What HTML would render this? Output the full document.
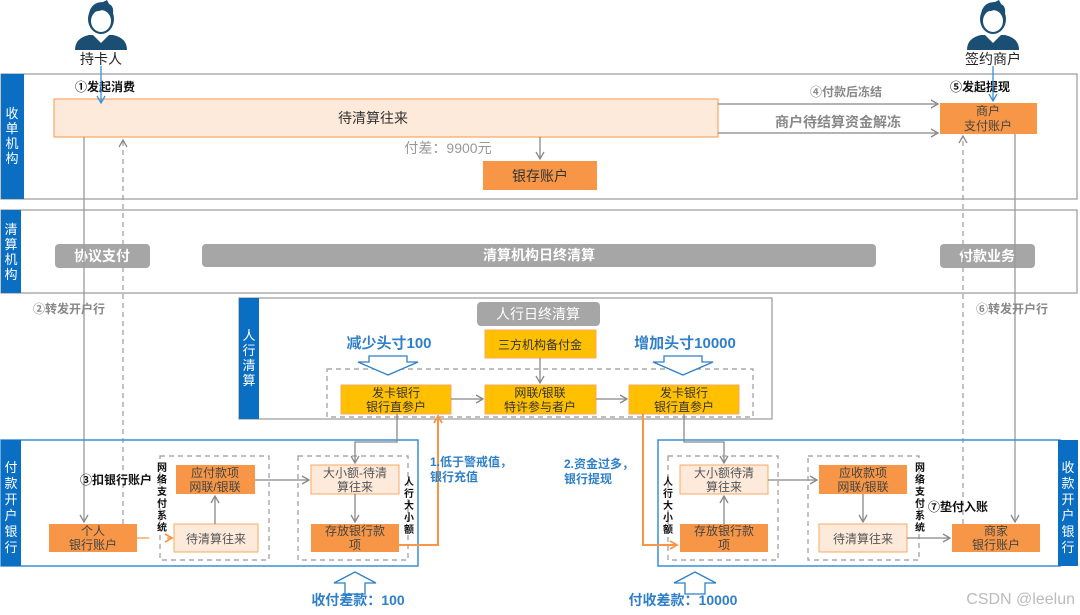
<!DOCTYPE html>
<html><head><meta charset="utf-8"><style>
html,body{margin:0;padding:0;background:#fff;}
svg{display:block;font-family:"Liberation Sans","Noto Sans CJK SC",sans-serif;}
</style></head><body>
<svg width="1080" height="615" viewBox="0 0 1080 615" xmlns="http://www.w3.org/2000/svg">
<defs>
<marker id="ag" markerWidth="10" markerHeight="10" refX="8" refY="5" orient="auto" markerUnits="userSpaceOnUse"><path d="M1,1 L8,5 L1,9" fill="none" stroke="#888" stroke-width="1.3"/></marker>
<marker id="ab" markerWidth="10" markerHeight="10" refX="8" refY="5" orient="auto" markerUnits="userSpaceOnUse"><path d="M1,1 L8,5 L1,9" fill="none" stroke="#3a8fd8" stroke-width="1.3"/></marker>
<marker id="ao" markerWidth="10" markerHeight="10" refX="8" refY="5" orient="auto" markerUnits="userSpaceOnUse"><path d="M1,1 L8,5 L1,9" fill="none" stroke="#f79646" stroke-width="1.8"/></marker>
<g id="person">
<path d="M-26,48 Q-26,36 -12,33 L12,33 Q26,36 26,48 Z" fill="#1a4e72"/>
<path d="M-8,33 L0,41 L8,33 L5,30 L-5,30 Z" fill="#fff"/>
<ellipse cx="0" cy="17" rx="13" ry="15" fill="#1a4e72"/>
<ellipse cx="0" cy="19" rx="10" ry="11" fill="#fff"/>
<path d="M-12,12 Q-10,0 2,0 L6,-2 L8,2 Q13,4 12,12 Q5,6 -2,9 Q-8,9 -12,12Z" fill="#1a4e72"/>
</g>
</defs>

<use href="#person" x="101" y="2"/>
<text x="101" y="64" font-size="14" text-anchor="middle" fill="#222">持卡人</text>
<use href="#person" x="993" y="2"/>
<text x="993" y="64" font-size="14" text-anchor="middle" fill="#222">签约商户</text>

<rect x="1" y="74" width="1076" height="125" fill="#fff" stroke="#999" stroke-width="1.2"/>
<rect x="1" y="74" width="23" height="125" fill="#0a6ec2"/>
<text font-size="13" fill="#fff" text-anchor="middle"><tspan x="12" y="118">收</tspan><tspan x="12" y="133">单</tspan><tspan x="12" y="148">机</tspan><tspan x="12" y="163">构</tspan></text>
<rect x="54" y="99" width="664" height="38" fill="#fdeadb" stroke="#f7a864" stroke-width="1.2"/>
<text x="373" y="123" font-size="14" text-anchor="middle" fill="#333">待清算往来</text>
<text x="448" y="153" font-size="14" text-anchor="middle" fill="#999">付差：9900元</text>
<rect x="483" y="161" width="114" height="29" fill="#f79646"/>
<text x="540" y="181" font-size="14" text-anchor="middle" fill="#333">银存账户</text>
<line x1="540" y1="137" x2="540" y2="159" stroke="#888" stroke-width="1.3" marker-end="url(#ag)"/>
<rect x="940" y="103" width="97" height="31" fill="#f79646"/>
<text font-size="12" text-anchor="middle" fill="#444"><tspan x="988" y="115">商户</tspan><tspan x="988" y="130">支付账户</tspan></text>
<line x1="718" y1="104" x2="938" y2="104" stroke="#888" stroke-width="1.3" marker-end="url(#ag)"/>
<line x1="718" y1="133" x2="938" y2="133" stroke="#888" stroke-width="1.3" marker-end="url(#ag)"/>
<text x="846" y="96" font-size="12" text-anchor="middle" fill="#888" font-weight="bold">④付款后冻结</text>
<text x="838" y="127" font-size="14" text-anchor="middle" fill="#888" font-weight="bold">商户待结算资金解冻</text>
<text x="75" y="91" font-size="12" font-weight="bold" fill="#111">①发起消费</text>
<text x="950" y="91" font-size="12" font-weight="bold" fill="#111">⑤发起提现</text>
<line x1="101" y1="66" x2="101" y2="103" stroke="#3a8fd8" stroke-width="1.3" marker-end="url(#ab)"/>
<line x1="993" y1="66" x2="993" y2="101" stroke="#3a8fd8" stroke-width="1.3" marker-end="url(#ab)"/>

<rect x="1" y="210" width="1076" height="83" fill="#fff" stroke="#999" stroke-width="1.2"/>
<rect x="1" y="210" width="20" height="83" fill="#0a6ec2"/>
<text font-size="13" fill="#fff" text-anchor="middle"><tspan x="11" y="234">清</tspan><tspan x="11" y="249">算</tspan><tspan x="11" y="264">机</tspan><tspan x="11" y="279">构</tspan></text>
<rect x="55" y="244" width="95" height="24" rx="4" fill="#a6a6a6"/>
<text x="102" y="261" font-size="14" text-anchor="middle" fill="#fff" font-weight="bold">协议支付</text>
<rect x="202" y="244" width="674" height="23" rx="4" fill="#a6a6a6"/>
<text x="539" y="260" font-size="14" text-anchor="middle" fill="#fff" font-weight="bold">清算机构日终清算</text>
<rect x="940" y="244" width="95" height="24" rx="4" fill="#a6a6a6"/>
<text x="987" y="261" font-size="14" text-anchor="middle" fill="#fff" font-weight="bold">付款业务</text>

<line x1="84" y1="137" x2="84" y2="522" stroke="#999" stroke-width="1.3" marker-end="url(#ag)"/>
<line x1="123" y1="524" x2="123" y2="140" stroke="#999" stroke-width="1.2" stroke-dasharray="5,4" marker-end="url(#ag)"/>
<line x1="963" y1="524" x2="963" y2="136" stroke="#999" stroke-width="1.2" stroke-dasharray="5,4" marker-end="url(#ag)"/>
<line x1="1015" y1="134" x2="1015" y2="522" stroke="#999" stroke-width="1.3" marker-end="url(#ag)"/>
<text x="33" y="313" font-size="12" fill="#888" font-weight="bold">②转发开户行</text>
<text x="976" y="313" font-size="12" fill="#888" font-weight="bold">⑥转发开户行</text>

<rect x="239" y="298" width="533" height="121" fill="#fff" stroke="#999" stroke-width="1.2"/>
<rect x="239" y="298" width="20" height="121" fill="#0a6ec2"/>
<text font-size="13" fill="#fff" text-anchor="middle"><tspan x="249" y="340">人</tspan><tspan x="249" y="355">行</tspan><tspan x="249" y="370">清</tspan><tspan x="249" y="385">算</tspan></text>
<rect x="477" y="302" width="123" height="24" rx="4" fill="#a6a6a6"/>
<text x="538" y="319" font-size="14" text-anchor="middle" fill="#fff">人行日终清算</text>
<text x="389" y="348" font-size="15" text-anchor="middle" fill="#2e7fc8" font-weight="bold">减少头寸100</text>
<text x="685" y="348" font-size="15" text-anchor="middle" fill="#2e7fc8" font-weight="bold">增加头寸10000</text>
<rect x="485" y="330" width="111" height="28" fill="#ffc000" stroke="#f7a864"/>
<text x="540" y="349" font-size="12" text-anchor="middle" fill="#333">三方机构备付金</text>
<rect x="327" y="369" width="426" height="48" fill="none" stroke="#999" stroke-width="1.2" stroke-dasharray="5,4"/>
<path d="M369,362 L369,356 L407,356 L407,362 L418,362 L388,375 L358,362 Z" fill="#fff" stroke="#2e7fc8" stroke-width="1.3"/>
<path d="M664,362 L664,356 L702,356 L702,362 L713,362 L683,375 L653,362 Z" fill="#fff" stroke="#2e7fc8" stroke-width="1.3"/>
<rect x="341" y="385" width="110" height="29" fill="#ffc000" stroke="#f7a864"/>
<text font-size="12" text-anchor="middle" fill="#333"><tspan x="396" y="397">发卡银行</tspan><tspan x="396" y="411">银行直参户</tspan></text>
<rect x="485" y="385" width="111" height="29" fill="#ffc000" stroke="#f7a864"/>
<text font-size="12" text-anchor="middle" fill="#333"><tspan x="540" y="397">网联/银联</tspan><tspan x="540" y="411">特许参与者户</tspan></text>
<rect x="629" y="385" width="110" height="29" fill="#ffc000" stroke="#f7a864"/>
<text font-size="12" text-anchor="middle" fill="#333"><tspan x="684" y="397">发卡银行</tspan><tspan x="684" y="411">银行直参户</tspan></text>
<line x1="540" y1="358" x2="540" y2="383" stroke="#888" stroke-width="1.3" marker-end="url(#ag)"/>
<line x1="451" y1="399" x2="483" y2="399" stroke="#888" stroke-width="1.3" marker-end="url(#ag)"/>
<line x1="596" y1="399" x2="627" y2="399" stroke="#888" stroke-width="1.3" marker-end="url(#ag)"/>

<rect x="1" y="440" width="417" height="126" fill="none" stroke="#3a8fd8" stroke-width="1.5"/>
<rect x="1" y="440" width="20" height="126" fill="#0a6ec2"/>
<text font-size="13" fill="#fff" text-anchor="middle"><tspan x="11" y="472">付</tspan><tspan x="11" y="488">款</tspan><tspan x="11" y="504">开</tspan><tspan x="11" y="520">户</tspan><tspan x="11" y="536">银</tspan><tspan x="11" y="552">行</tspan></text>
<text x="80" y="484" font-size="12" font-weight="bold" fill="#111">③扣银行账户</text>
<rect x="49" y="524" width="88" height="28" fill="#f79646"/>
<text font-size="12" text-anchor="middle" fill="#444"><tspan x="93" y="535">个人</tspan><tspan x="93" y="549">银行账户</tspan></text>
<rect x="160" y="456" width="109" height="104" fill="none" stroke="#999" stroke-width="1.2" stroke-dasharray="5,4"/>
<text font-size="10" font-weight="bold" fill="#111" text-anchor="middle"><tspan x="162" y="471">网</tspan><tspan x="162" y="483">络</tspan><tspan x="162" y="495">支</tspan><tspan x="162" y="507">付</tspan><tspan x="162" y="519">系</tspan><tspan x="162" y="531">统</tspan></text>
<rect x="176" y="465" width="79" height="29" fill="#f79646"/>
<text font-size="12" text-anchor="middle" fill="#444"><tspan x="215" y="477">应付款项</tspan><tspan x="215" y="491">网联/银联</tspan></text>
<rect x="174" y="524" width="84" height="28" fill="#fdeadb" stroke="#f7a864"/>
<text x="216" y="543" font-size="12" text-anchor="middle" fill="#555">待清算往来</text>
<line x1="137" y1="538" x2="172" y2="538" stroke="#f79646" stroke-width="1.3" stroke-dasharray="12,18" marker-end="url(#ao)"/>
<line x1="215" y1="524" x2="215" y2="496" stroke="#888" stroke-width="1.3" marker-end="url(#ag)"/>
<line x1="255" y1="480" x2="309" y2="480" stroke="#888" stroke-width="1.3" marker-end="url(#ag)"/>
<rect x="298" y="456" width="110" height="104" fill="none" stroke="#999" stroke-width="1.2" stroke-dasharray="5,4"/>
<rect x="311" y="465" width="88" height="29" fill="#fdeadb" stroke="#f7a864"/>
<text font-size="12" text-anchor="middle" fill="#555"><tspan x="355" y="477">大小额-待清</tspan><tspan x="355" y="491">算往来</tspan></text>
<rect x="311" y="524" width="88" height="28" fill="#f79646"/>
<text font-size="12" text-anchor="middle" fill="#444"><tspan x="355" y="535">存放银行款</tspan><tspan x="355" y="549">项</tspan></text>
<line x1="355" y1="494" x2="355" y2="522" stroke="#888" stroke-width="1.3" marker-end="url(#ag)"/>
<text font-size="10" font-weight="bold" fill="#111" text-anchor="middle"><tspan x="409" y="485">人</tspan><tspan x="409" y="497">行</tspan><tspan x="409" y="509">大</tspan><tspan x="409" y="521">小</tspan><tspan x="409" y="533">额</tspan></text>
<polyline points="397,414 397,442 355,442 355,463" fill="none" stroke="#888" stroke-width="1.3" marker-end="url(#ag)"/>
<polyline points="399,545 438,545 438,416" fill="none" stroke="#f79646" stroke-width="2" marker-end="url(#ao)"/>
<text font-size="12" font-weight="bold" fill="#2e7fc8"><tspan x="430" y="466">1.低于警戒值，</tspan><tspan x="430" y="481">银行充值</tspan></text>
<path d="M345,594 L345,583 L334,583 L355,572 L376,583 L365,583 L365,594 Z" fill="#fff" stroke="#2e7fc8" stroke-width="1.3"/>
<text x="358" y="605" font-size="14" text-anchor="middle" fill="#2e7fc8" font-weight="bold">收付差款：100</text>

<rect x="658" y="440" width="402" height="126" fill="none" stroke="#3a8fd8" stroke-width="1.5"/>
<rect x="1058" y="440" width="20" height="126" fill="#0a6ec2"/>
<text font-size="13" fill="#fff" text-anchor="middle"><tspan x="1068" y="472">收</tspan><tspan x="1068" y="488">款</tspan><tspan x="1068" y="504">开</tspan><tspan x="1068" y="520">户</tspan><tspan x="1068" y="536">银</tspan><tspan x="1068" y="552">行</tspan></text>
<text font-size="12" font-weight="bold" fill="#2e7fc8"><tspan x="564" y="468">2.资金过多，</tspan><tspan x="564" y="483">银行提现</tspan></text>
<polyline points="643,414 643,545 677,545" fill="none" stroke="#f79646" stroke-width="2" marker-end="url(#ao)"/>
<polyline points="684,414 684,442 724,442 724,463" fill="none" stroke="#888" stroke-width="1.3" marker-end="url(#ag)"/>
<rect x="668" y="456" width="110" height="104" fill="none" stroke="#999" stroke-width="1.2" stroke-dasharray="5,4"/>
<text font-size="10" font-weight="bold" fill="#111" text-anchor="middle"><tspan x="668" y="485">人</tspan><tspan x="668" y="497">行</tspan><tspan x="668" y="509">大</tspan><tspan x="668" y="521">小</tspan><tspan x="668" y="533">额</tspan></text>
<rect x="680" y="465" width="88" height="29" fill="#fdeadb" stroke="#f7a864"/>
<text font-size="12" text-anchor="middle" fill="#555"><tspan x="724" y="477">大小额待清</tspan><tspan x="724" y="491">算往来</tspan></text>
<rect x="680" y="524" width="88" height="28" fill="#f79646"/>
<text font-size="12" text-anchor="middle" fill="#444"><tspan x="724" y="535">存放银行款</tspan><tspan x="724" y="549">项</tspan></text>
<line x1="724" y1="524" x2="724" y2="496" stroke="#888" stroke-width="1.3" marker-end="url(#ag)"/>
<line x1="768" y1="480" x2="817" y2="480" stroke="#888" stroke-width="1.3" marker-end="url(#ag)"/>
<rect x="808" y="456" width="111" height="104" fill="none" stroke="#999" stroke-width="1.2" stroke-dasharray="5,4"/>
<rect x="819" y="465" width="88" height="29" fill="#f79646"/>
<text font-size="12" text-anchor="middle" fill="#444"><tspan x="863" y="477">应收款项</tspan><tspan x="863" y="491">网联/银联</tspan></text>
<rect x="819" y="524" width="88" height="28" fill="#fdeadb" stroke="#f7a864"/>
<text x="863" y="543" font-size="12" text-anchor="middle" fill="#555">待清算往来</text>
<line x1="863" y1="494" x2="863" y2="522" stroke="#888" stroke-width="1.3" marker-end="url(#ag)"/>
<text font-size="10" font-weight="bold" fill="#111" text-anchor="middle"><tspan x="920" y="471">网</tspan><tspan x="920" y="483">络</tspan><tspan x="920" y="495">支</tspan><tspan x="920" y="507">付</tspan><tspan x="920" y="519">系</tspan><tspan x="920" y="531">统</tspan></text>
<text x="928" y="511" font-size="12" font-weight="bold" fill="#111">⑦垫付入账</text>
<line x1="907" y1="538" x2="950" y2="538" stroke="#888" stroke-width="1.3" marker-end="url(#ag)"/>
<rect x="952" y="524" width="88" height="28" fill="#f79646"/>
<text font-size="12" text-anchor="middle" fill="#444"><tspan x="996" y="535">商家</tspan><tspan x="996" y="549">银行账户</tspan></text>
<path d="M685,594 L685,583 L674,583 L695,572 L716,583 L705,583 L705,594 Z" fill="#fff" stroke="#2e7fc8" stroke-width="1.3"/>
<text x="683" y="605" font-size="14" text-anchor="middle" fill="#2e7fc8" font-weight="bold">付收差款：10000</text>
<text x="1075" y="604" font-size="16" text-anchor="end" fill="#bbb">CSDN @leelun</text>
</svg>
</body></html>
